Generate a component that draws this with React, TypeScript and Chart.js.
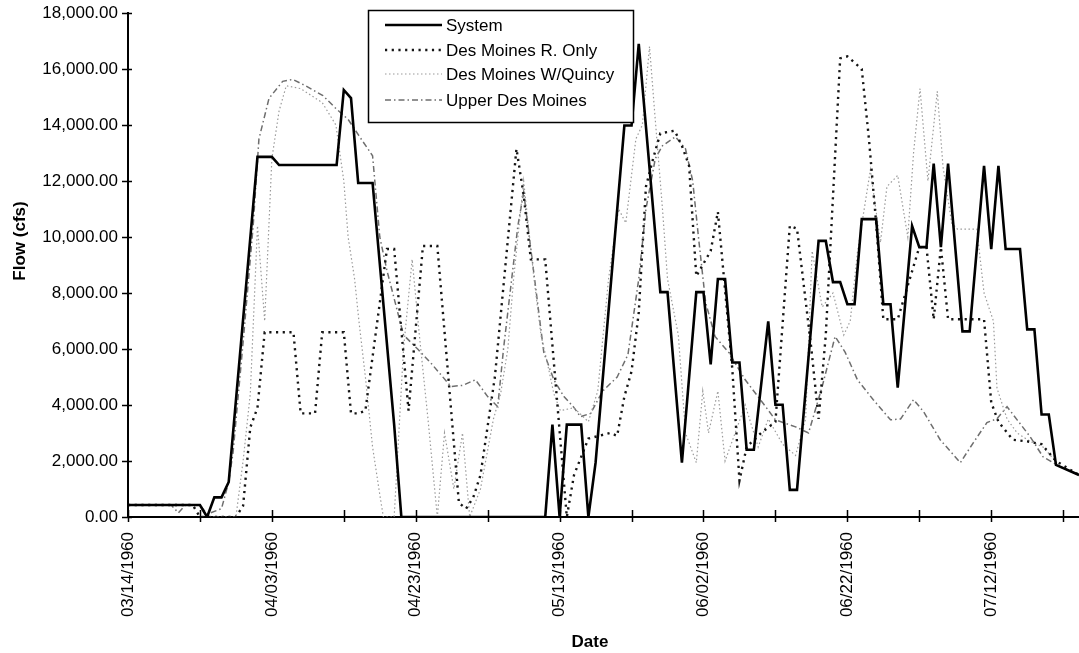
import React, { useEffect, useRef } from "react";
import { Chart, registerables } from "chart.js";

Chart.register(...registerables);

// ---------- axis / tick data ----------
const xTickDays = [0, 20, 40, 60, 80, 100, 120];
const xTickLabels = ["03/14/1960", "04/03/1960", "04/23/1960", "05/13/1960", "06/02/1960", "06/22/1960", "07/12/1960"];
const lastDay = 132.2; // right edge of the plot (days after 03/14/1960)
const yMax = 18000;
const yStep = 2000;

const seriesNames = ["System", "Des Moines R. Only", "Des Moines W/Quincy", "Upper Des Moines"];

// ---------- series (day index after 03/14/1960, flow in cfs) ----------
const systemDays = [0, 10, 11, 12, 13, 14, 18, 20, 21, 29, 30, 31, 32, 34, 37, 38, 58, 59, 60, 61, 63, 64, 65, 69, 70, 71, 74, 75, 77, 79, 80, 81, 82, 83, 84, 85, 86, 87, 89, 90, 91, 92, 93, 96, 97, 98, 99, 100, 101, 102, 104, 105, 106, 107, 109, 110, 111, 112, 113, 114, 116, 117, 119, 120, 121, 122, 124, 125, 126, 127, 128, 129, 132.2];
const systemFlow = [430, 430, 0, 700, 700, 1250, 12860, 12860, 12570, 12570, 15250, 14960, 11930, 11930, 3290, 0, 0, 3300, 0, 3300, 3300, 0, 1940, 13980, 13980, 16900, 8030, 8030, 1940, 8030, 8030, 5450, 8500, 8500, 5520, 5520, 2400, 2400, 6990, 4010, 4010, 970, 970, 9860, 9860, 8390, 8390, 7600, 7600, 10640, 10640, 7600, 7600, 4620, 10390, 9640, 9640, 12620, 9640, 12620, 6630, 6630, 12540, 9570, 12540, 9570, 9570, 6700, 6700, 3660, 3660, 1860, 1500];

const riverOnlyDays = [0, 9, 10, 15, 16, 17, 18, 19, 23, 24, 26, 27, 30, 31, 32, 33, 36, 37, 39, 41, 43, 46, 47, 48, 49, 51, 54, 55, 56, 58, 61, 62, 64, 67, 68, 69, 70, 71, 72, 73, 74, 76, 77, 78, 79, 81, 82, 84, 85, 86, 88, 90, 92, 93, 95, 96, 97, 99, 100, 102, 103, 104, 105, 107, 110, 111, 112, 113, 114, 115, 118, 119, 120, 121, 123, 125, 127, 129, 132.2];
const riverOnlyFlow = [430, 430, 0, 0, 400, 3200, 3900, 6600, 6600, 3700, 3700, 6600, 6600, 3700, 3700, 3800, 9570, 9570, 3800, 9680, 9680, 500, 300, 700, 1500, 5000, 13150, 11500, 9200, 9200, 0, 1500, 2800, 3000, 2900, 4300, 5200, 7300, 11800, 12800, 13700, 13800, 13260, 12540, 8600, 9500, 10900, 5300, 1300, 2500, 3000, 3400, 10400, 10300, 6000, 3500, 6500, 16380, 16450, 16000, 13500, 10500, 7060, 7060, 9640, 9640, 7060, 9640, 7060, 7060, 7060, 7060, 4090, 3400, 2760, 2700, 2600, 2000, 1500];

const quincyDays = [0, 10, 11, 15, 16, 17, 18, 19, 20, 21, 22, 24, 27, 28.9, 30, 30.6, 31.5, 32.1, 33, 34, 35, 35.5, 37, 38.3, 39.5, 40.5, 41.7, 43, 44, 45.3, 46.5, 47.5, 49, 50.8, 51.8, 52.8, 53.6, 55, 56.4, 57.4, 58.3, 59.2, 60.1, 62, 64, 65.3, 66.8, 68.2, 69.2, 70.6, 71.5, 72.5, 73.2, 74.3, 75, 76.5, 77.5, 79, 79.9, 80.7, 82, 83, 85.8, 87.6, 89, 91, 92.8, 94.2, 95.1, 96.5, 98, 99.5, 100.4, 101.4, 103.2, 104.6, 105.5, 107, 108.4, 109.2, 110.1, 111.2, 112.5, 113.3, 114.5, 115.3, 118, 119, 120.3, 120.8, 122.2, 123.6, 125.4, 127.2, 129.6, 132.2];
const quincyFlow = [430, 430, 0, 0, 2000, 4400, 10400, 7000, 12800, 14500, 15400, 15300, 14800, 14000, 12000, 10000, 8500, 7000, 5000, 2500, 800, 0, 0, 6000, 9200, 6500, 3500, 0, 3000, 1000, 3000, 0, 1000, 3500, 4400, 6000, 8500, 12000, 8600, 6500, 5500, 4400, 3800, 3900, 3400, 4500, 8500, 11000, 10500, 13500, 14000, 16800, 14500, 11000, 8500, 6500, 3000, 1940, 4500, 3000, 4500, 2000, 4000, 2500, 3500, 2600, 2200, 3500, 9500, 7500, 8000, 6500, 7000, 9460, 12400, 9800, 11800, 12200, 10000, 13000, 15300, 12000, 15200, 12500, 10500, 10280, 10280, 8000, 7000, 4600, 3500, 3000, 2700, 2500, 1800, 1500];

const upperDays = [0, 6, 7, 8, 10, 11, 13, 14, 14.6, 16, 17.4, 18.2, 19.6, 21.5, 22.9, 24.7, 27.1, 28.9, 30.6, 32.1, 34, 35, 36, 37, 38.3, 40.3, 42.1, 44.9, 46.5, 48.3, 50, 51.4, 52.2, 54.2, 55, 56.4, 57.8, 59.2, 60.6, 61.9, 62.9, 64.3, 66, 68, 69.5, 71, 72, 73.3, 74.3, 76.1, 77.5, 78.5, 79.3, 80.3, 81.6, 83.5, 85.8, 88.2, 90, 92.8, 94.6, 96.5, 98.3, 99.7, 101.4, 103.6, 106, 107.4, 109.2, 110.6, 112.9, 115.7, 117.5, 119.4, 120.8, 122.2, 123.6, 125.4, 127.2, 129.6, 132.2];
const upperFlow = [430, 430, 150, 430, 430, 100, 300, 1250, 2300, 6240, 10400, 13500, 14950, 15560, 15630, 15400, 15050, 14590, 14200, 13620, 12900, 10000, 8800, 7800, 6500, 5990, 5500, 4660, 4700, 4900, 4300, 3940, 6000, 10400, 11600, 8750, 5880, 4900, 4300, 3940, 3580, 3700, 4500, 5000, 5800, 8500, 11000, 12800, 13260, 13580, 13150, 12000, 10000, 7660, 6450, 5880, 4900, 4090, 3470, 3220, 3000, 4660, 6450, 5880, 4900, 4190, 3470, 3500, 4190, 3760, 2760, 1940, 2650, 3370, 3510, 3940, 3470, 2870, 2150, 1790, 1500];

const FONT = "'Liberation Sans', Arial, Helvetica, sans-serif";

function toPoints(days: number[], flow: number[]) {
  return days.map((d, i) => ({ x: d, y: flow[i] }));
}

const fmt = (v: number) =>
  Number(v).toLocaleString("en-US", { minimumFractionDigits: 2, maximumFractionDigits: 2 });

export default function App() {
  const ref = useRef<HTMLCanvasElement>(null);

  useEffect(() => {
    document.body.style.margin = "0";
    const canvas = ref.current;
    if (!canvas) return;

    const axisMarks = {
      id: "axisMarks",
      afterDraw(chart: any) {
        const { ctx, chartArea, scales } = chart;
        ctx.save();
        ctx.strokeStyle = "#000";
        ctx.lineWidth = 1.5;
        ctx.beginPath();
        scales.y.ticks.forEach((t: any) => {
          const y = Math.round(scales.y.getPixelForValue(t.value)) + 0.5;
          ctx.moveTo(chartArea.left - 6, y);
          ctx.lineTo(chartArea.left + 4, y);
        });
        scales.x.ticks.forEach((t: any) => {
          const x = Math.round(scales.x.getPixelForValue(t.value)) + 0.5;
          ctx.moveTo(x, chartArea.bottom - 7);
          ctx.lineTo(x, chartArea.bottom + 5);
        });
        ctx.stroke();
        ctx.restore();
      },
    };

    const axisTitles = {
      id: "axisTitles",
      afterDraw(chart: any) {
        const { ctx } = chart;
        ctx.save();
        ctx.fillStyle = "#000";
        ctx.font = `bold 17px ${FONT}`;
        ctx.textAlign = "center";
        ctx.textBaseline = "middle";
        ctx.fillText("Date", 590, 642);
        ctx.translate(20, 241);
        ctx.rotate(-Math.PI / 2);
        ctx.fillText("Flow (cfs)", 0, 0);
        ctx.restore();
      },
    };

    const legendBox = {
      id: "legendBox",
      afterDraw(chart: any) {
        const { ctx } = chart;
        const bx = 368, by = 10, bw = 265, bh = 112;
        ctx.save();
        ctx.fillStyle = "#fff";
        ctx.fillRect(bx, by, bw, bh);
        ctx.strokeStyle = "#000";
        ctx.lineWidth = 1.5;
        ctx.strokeRect(bx + 0.5, by + 0.5, bw, bh);
        const rows = [25, 50, 74, 100];
        chart.data.datasets.forEach((ds: any, i: number) => {
          const y = rows[i];
          ctx.save();
          ctx.strokeStyle = ds.borderColor;
          ctx.lineWidth = ds.borderWidth;
          ctx.setLineDash(ds.borderDash || []);
          ctx.beginPath();
          ctx.moveTo(385, y);
          ctx.lineTo(442, y);
          ctx.stroke();
          ctx.restore();
          ctx.fillStyle = "#000";
          ctx.font = `17px ${FONT}`;
          ctx.textAlign = "left";
          ctx.textBaseline = "middle";
          ctx.fillText(ds.label, 446, y + 1);
        });
        ctx.restore();
      },
    };

    const chart = new Chart(canvas, {
      type: "line",
      data: {
        datasets: [
          {
            label: seriesNames[0],
            data: toPoints(systemDays, systemFlow),
            borderColor: "#000000",
            borderWidth: 2.6,
            borderDash: [],
          },
          {
            label: seriesNames[1],
            data: toPoints(riverOnlyDays, riverOnlyFlow),
            borderColor: "#151515",
            borderWidth: 2.4,
            borderDash: [2.2, 4.5],
          },
          {
            label: seriesNames[2],
            data: toPoints(quincyDays, quincyFlow),
            borderColor: "#9a9a9a",
            borderWidth: 1.2,
            borderDash: [1.5, 2.5],
          },
          {
            label: seriesNames[3],
            data: toPoints(upperDays, upperFlow),
            borderColor: "#6e6e6e",
            borderWidth: 1.5,
            borderDash: [6, 3, 1.5, 3],
          },
        ] as any,
      },
      options: {
        responsive: false,
        animation: false,
        devicePixelRatio: 1,
        layout: { padding: { top: 13, left: 0, right: 0, bottom: 0 } },
        elements: { point: { radius: 0 }, line: { tension: 0 } },
        plugins: { legend: { display: false }, tooltip: { enabled: false } },
        scales: {
          x: {
            type: "linear",
            min: 0,
            max: lastDay,
            grid: { display: false, drawTicks: false },
            border: { display: true, color: "#000", width: 2 },
            ticks: {
              stepSize: 10,
              includeBounds: false,
              autoSkip: false,
              maxRotation: 90,
              minRotation: 90,
              padding: 15,
              color: "#000",
              font: { family: FONT, size: 17 },
              callback: (v: any) => {
                const i = xTickDays.indexOf(Number(v));
                return i >= 0 ? xTickLabels[i] : "";
              },
            },
            afterFit: (s: any) => {
              s.height = 136;
              s.paddingLeft = 0;
              s.paddingRight = 0;
            },
          },
          y: {
            min: 0,
            max: yMax,
            grid: { display: false, drawTicks: false },
            border: { display: true, color: "#000", width: 2 },
            ticks: {
              stepSize: yStep,
              padding: 10,
              color: "#000",
              font: { family: FONT, size: 17 },
              callback: (v: any) => fmt(v),
            },
            afterFit: (s: any) => {
              s.width = 128;
              s.paddingTop = 0;
              s.paddingBottom = 0;
            },
          },
        },
      } as any,
      plugins: [axisMarks, axisTitles, legendBox],
    });

    return () => chart.destroy();
  }, []);

  return (
    <div style={{ width: 1079, height: 653 }}>
      <canvas ref={ref} width={1079} height={653} style={{ display: "block" }} />
    </div>
  );
}
